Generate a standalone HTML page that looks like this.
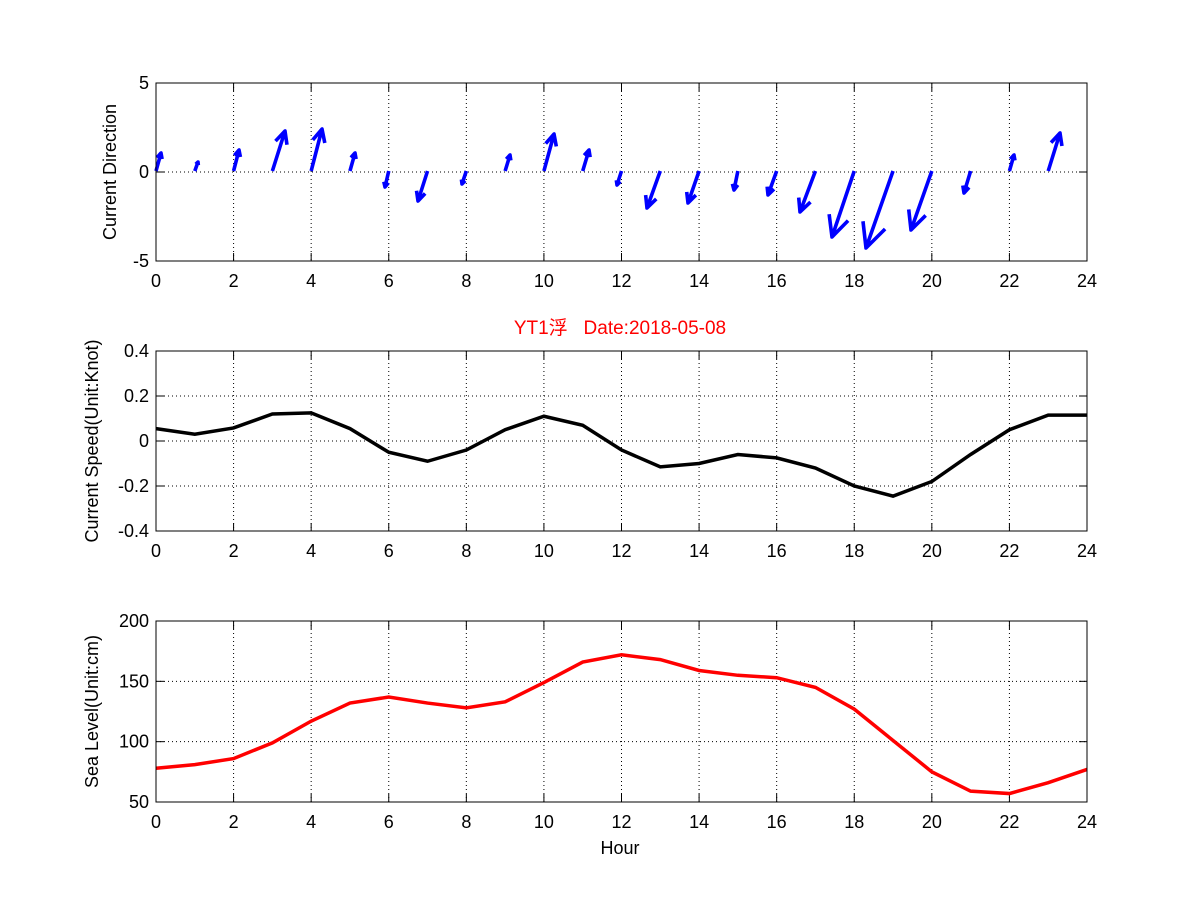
<!DOCTYPE html><html><head><meta charset="utf-8"><style>body{margin:0;background:#fff}svg text{font-family:"Liberation Sans","Noto Sans CJK SC",sans-serif;font-size:18px}</style></head><body>
<svg id="s" width="1201" height="901" xmlns="http://www.w3.org/2000/svg"></svg>
<script>
const s=document.getElementById('s');let h='';
const X=t=>156+t*(1087-156)/24;
function axes(y0,y1,yt,ymin,ymax,lab){
 const Y=v=>y1-(v-ymin)/(ymax-ymin)*(y1-y0);
 h+=`<rect x="156" y="${y0}" width="931" height="${y1-y0}" fill="#fff"/>`;
 for(let t=2;t<24;t+=2)h+=`<line x1="${X(t)}" x2="${X(t)}" y1="${y0}" y2="${y1}" stroke="#000" stroke-dasharray="1,3"/>`;
 yt.forEach(v=>{if(v>ymin&&v<ymax)h+=`<line x1="156" x2="1087" y1="${Y(v)}" y2="${Y(v)}" stroke="#000" stroke-dasharray="1,3"/>`;});
 for(let t=0;t<=24;t+=2){h+=`<line x1="${X(t)}" x2="${X(t)}" y1="${y1}" y2="${y1-8}" stroke="#000"/><line x1="${X(t)}" x2="${X(t)}" y1="${y0}" y2="${y0+8}" stroke="#000"/><text x="${X(t)}" y="${y1+26}" text-anchor="middle">${t}</text>`;}
 yt.forEach(v=>{h+=`<line x1="156" x2="164" y1="${Y(v)}" y2="${Y(v)}" stroke="#000"/><line x1="1079" x2="1087" y1="${Y(v)}" y2="${Y(v)}" stroke="#000"/><text x="149" y="${Y(v)+6}" text-anchor="end">${v}</text>`;});
 h+=`<text transform="translate(${lab[1]},${(y0+y1)/2}) rotate(-90)" text-anchor="middle">${lab[0]}</text>`;
 return Y;
}
axes(83,261,[-5,0,5],-5,5,['Current Direction',116]);
const tips=[[161,153],[198,162],[239,150],[285,131],[322,129],[355,153],[385,187],[418,201],[462,184],[510,155],[554,134],[589,150],[617,185],[647,208],[688,203],[734,190],[768,195],[800,212],[832,237],[866,248],[911,230],[964,193],[1014,155],[1060,133],[1089,170]];
let q='';
tips.forEach((p,i)=>{const bx=X(i),by=171,dx=p[0]-bx,dy=p[1]-by,L=Math.hypot(dx,dy);if(L<3)return;
 const a=Math.atan2(dy,dx),b=L*0.33,ang=0.45;
 q+=`M${bx},${by}L${p[0]},${p[1]}M${p[0]-b*Math.cos(a-ang)},${p[1]-b*Math.sin(a-ang)}L${p[0]},${p[1]}L${p[0]-b*Math.cos(a+ang)},${p[1]-b*Math.sin(a+ang)}`;});
h+=`<path d="${q}" stroke="#0000ff" stroke-width="3.6" stroke-linejoin="round" fill="none"/>`;
h+=`<rect x="156" y="83" width="931" height="178" fill="none" stroke="#000"/>`;
const Y2=axes(351,531,[-0.4,-0.2,0,0.2,0.4],-0.4,0.4,['Current Speed(Unit:Knot)',98]);
const sp=[0.055,0.03,0.058,0.12,0.125,0.055,-0.05,-0.09,-0.04,0.05,0.11,0.07,-0.04,-0.115,-0.1,-0.06,-0.075,-0.12,-0.2,-0.245,-0.18,-0.06,0.05,0.115,0.115];
h+=`<polyline points="${sp.map((v,i)=>X(i)+','+Y2(v)).join(' ')}" fill="none" stroke="#000" stroke-width="3.5"/>`;
h+=`<rect x="156" y="351" width="931" height="180" fill="none" stroke="#000"/>`;
h+=`<text x="620" y="334" text-anchor="middle" fill="#ff0000" style="font-size:19px" xml:space="preserve">YT1浮   Date:2018-05-08</text>`;
const Y3=axes(621,802,[50,100,150,200],50,200,['Sea Level(Unit:cm)',98]);
const sl=[78,81,86,99,117,132,137,132,128,133,149,166,172,168,159,155,153,145,127,101,75,59,57,66,77];
h+=`<polyline points="${sl.map((v,i)=>X(i)+','+Y3(v)).join(' ')}" fill="none" stroke="#ff0000" stroke-width="3.5"/>`;
h+=`<rect x="156" y="621" width="931" height="181" fill="none" stroke="#000"/>`;
h+=`<text x="620" y="854" text-anchor="middle">Hour</text>`;
s.innerHTML=h;
</script></body></html>
